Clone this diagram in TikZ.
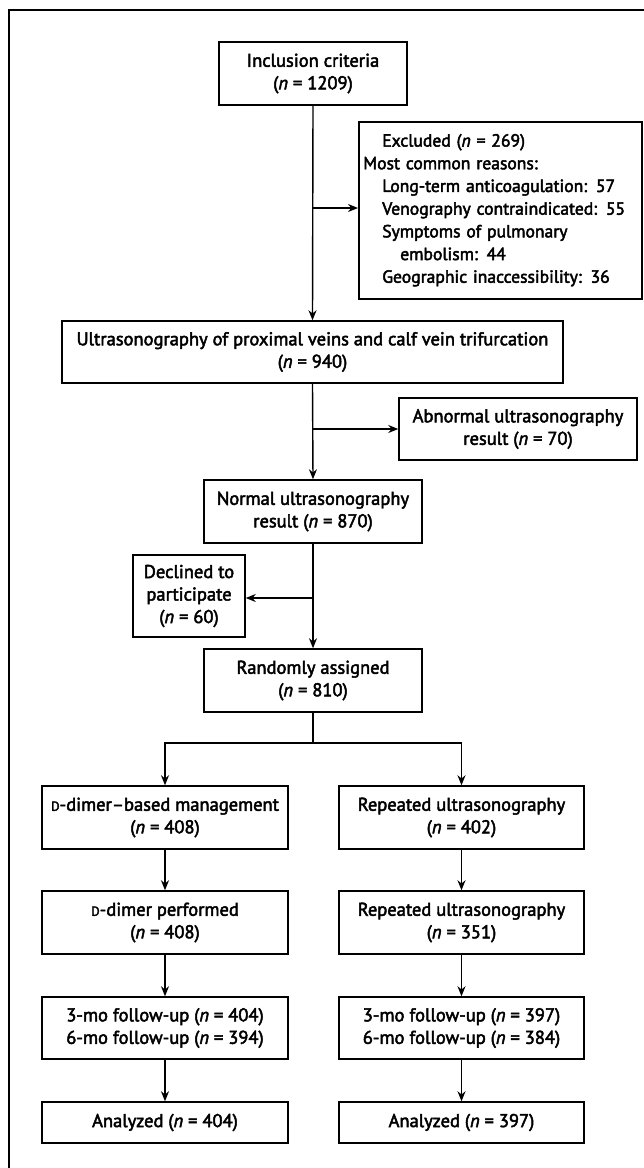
\documentclass[tikz,border=0pt]{standalone}
\usepackage{fontspec}
\setmainfont{PT Sans}[FakeBold=2.6]
\usetikzlibrary{arrows.meta}
\newcommand{\nn}{\textit{n}}
\newcommand{\smD}{{\fontsize{13}{12}\selectfont D}}
\begin{document}
\begin{tikzpicture}[x=1pt,y=-1pt,
  box/.style={draw, line width=1.5pt, align=center, inner sep=0pt, font=\fontsize{18.5}{22.5}\selectfont},
  arr/.style={line width=1.4pt, -{Stealth[length=10pt,width=8pt]}},
  ln/.style={line width=1.4pt},
  frame/.style={line width=1.8pt}]
\useasboundingbox (0,0) rectangle (644,1168);
\draw[frame] (644,10) -- (9,10) -- (9,1168);

\node[box, minimum width=188pt, minimum height=63pt] (inc) at (313,73.5) {Inclusion criteria\\(\nn{} = 1209)};
\node[box, anchor=north west, text width=278pt, inner xsep=2.5pt, minimum height=177pt, align=left, font=\fontsize{17.6}{22.7}\selectfont] (exc) at (358,121)
 {\hspace*{21pt}Excluded (\nn{} = 269)\\
  \hspace*{2pt}Most common reasons:\\
  \hspace*{21pt}Long-term anticoagulation: 57\\
  \hspace*{21pt}Venography contraindicated: 55\\
  \hspace*{21pt}Symptoms of pulmonary\\
  \hspace*{39pt}embolism: 44\\
  \hspace*{21pt}Geographic inaccessibility: 36};
\node[box, minimum width=501pt, minimum height=62pt] (ult) at (312.5,352) {Ultrasonography of proximal veins and calf vein trifurcation\\(\nn{} = 940)};
\node[box, minimum width=238pt, minimum height=62pt] (abn) at (518,429) {Abnormal ultrasonography\\result (\nn{} = 70)};
\node[box, minimum width=218pt, minimum height=63pt] (nor) at (313,511.5) {Normal ultrasonography\\result (\nn{} = 870)};
\node[box, minimum width=112pt, minimum height=82pt] (dec) at (189,596) {Declined to\\participate\\(\nn{} = 60)};
\node[box, minimum width=218pt, minimum height=63pt] (ran) at (313,680.5) {Randomly assigned\\(\nn{} = 810)};

\node[box, minimum width=246pt, minimum height=63pt] (l1) at (165,817.5) {\smD-dimer--based management\\(\nn{} = 408)};
\node[box, minimum width=245pt, minimum height=63pt] (r1) at (461.5,817.5) {Repeated ultrasonography\\(\nn{} = 402)};
\node[box, minimum width=246pt, minimum height=63pt] (l2) at (165,922.5) {\smD-dimer performed\\(\nn{} = 408)};
\node[box, minimum width=245pt, minimum height=63pt] (r2) at (461.5,922.5) {Repeated ultrasonography\\(\nn{} = 351)};
\node[box, minimum width=246pt, minimum height=62pt] (l3) at (165,1028) {3-mo follow-up (\nn{} = 404)\\6-mo follow-up (\nn{} = 394)};
\node[box, minimum width=245pt, minimum height=62pt] (r3) at (461.5,1028) {3-mo follow-up (\nn{} = 397)\\6-mo follow-up (\nn{} = 384)};
\node[box, minimum width=246pt, minimum height=41pt] (l4) at (165,1122.5) {Analyzed (\nn{} = 404)};
\node[box, minimum width=245pt, minimum height=41pt] (r4) at (461.5,1122.5) {Analyzed (\nn{} = 397)};

\coordinate (j1) at (313,208);
\coordinate (j2) at (313,429);
\coordinate (j3) at (313,598);
\coordinate (sp) at (313,743);

\draw[arr] (inc.south) -- (ult.north);
\draw[arr] (j1) -- (j1 -| exc.west);
\draw[arr] (ult.south) -- (nor.north);
\draw[arr] (j2) -- (j2 -| abn.west);
\draw[arr] (nor.south) -- (ran.north);
\draw[arr] (j3) -- (j3 -| dec.east);
\draw[ln] (ran.south) -- (sp);
\draw[arr] (sp) -| (l1.north);
\draw[arr] (sp) -| (r1.north);
\draw[arr] (l1) -- (l2);
\draw[arr] (l2) -- (l3);
\draw[arr] (l3) -- (l4);
\draw[arr] (r1) -- (r2);
\draw[arr] (r2) -- (r3);
\draw[arr] (r3) -- (r4);
\end{tikzpicture}
\end{document}
